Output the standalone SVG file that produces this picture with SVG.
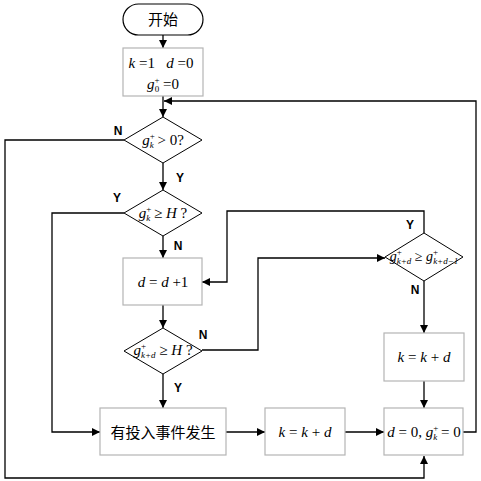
<svg xmlns="http://www.w3.org/2000/svg" width="481" height="481" viewBox="0 0 481 481">
<defs>
<marker id="ah" viewBox="0 0 10 10" refX="10" refY="5" markerWidth="9" markerHeight="8" markerUnits="userSpaceOnUse" orient="auto">
<path d="M0,0 L10,5 L0,10 z" fill="#000"/>
</marker>
<style>
.box{fill:#fff;stroke:#b4b4b4;stroke-width:1.2}
.dia{fill:#fff;stroke:#000;stroke-width:1}
.term{fill:#fff;stroke:#000;stroke-width:1.2}
.ln{fill:none;stroke:#000;stroke-width:1.3;marker-end:url(#ah)}
.m{font-family:"Liberation Serif","Times New Roman",serif;font-size:15px;fill:#000}
.i{font-style:italic}
.s{font-size:9px}
.lab{font-family:"Liberation Sans",Arial,sans-serif;font-weight:bold;font-size:12px;fill:#000;text-anchor:middle}
.cn{font-family:"Liberation Sans","Noto Sans CJK SC",sans-serif;font-size:15px;fill:#000;text-anchor:middle}
</style>
</defs>
<rect width="481" height="481" fill="#fff"/>

<g id="connectors">
<path class="ln" d="M163,35 V48"/>
<path class="ln" d="M163,96 V117"/>
<path class="ln" d="M463,432 H476 V101 H164"/>
<path class="ln" d="M124,140 H5 V478 H424 V456"/>
<path class="ln" d="M163,163 V190"/>
<path class="ln" d="M124,213 H52 V432 H100"/>
<path class="ln" d="M163,236 V258"/>
<path class="ln" d="M163,305 V328"/>
<path class="ln" d="M163,374 V408"/>
<path class="ln" d="M202,350 H258 V258 H385"/>
<path class="ln" d="M424,233 V211 H227 V282 H202"/>
<path class="ln" d="M424,281 V333"/>
<path class="ln" d="M424,381 V408"/>
<path class="ln" d="M226,432 H265"/>
<path class="ln" d="M345,432 H384"/>
<text class="lab" x="118" y="135">N</text>
<text class="lab" x="180" y="182">Y</text>
<text class="lab" x="117" y="202">Y</text>
<text class="lab" x="178" y="250">N</text>
<text class="lab" x="410" y="229">Y</text>
<text class="lab" x="415" y="294">N</text>
<text class="lab" x="203" y="339">N</text>
<text class="lab" x="178" y="392">Y</text>
</g>

<g id="start">
<rect class="term" x="123" y="4" width="80" height="31" rx="15.5"/>
<text class="cn" x="163" y="25">开始</text>
</g>

<g id="init">
<rect class="box" x="123" y="48" width="80" height="48"/>
<text class="m" x="161" y="68" text-anchor="middle"><tspan class="i">k</tspan> =1 &#160; <tspan class="i">d</tspan> =0</text>
<text class="m" x="163" y="89" text-anchor="middle"><tspan class="i">g</tspan><tspan class="s" dy="-6">+</tspan><tspan class="s" dx="-5" dy="9">0</tspan><tspan dy="-3"> =0</tspan></text>
</g>

<g id="dec1">
<polygon class="dia" points="163,117 202,140 163,163 124,140"/>
<text class="m" x="163" y="145" text-anchor="middle"><tspan class="i">g</tspan><tspan class="s" dy="-6">+</tspan><tspan class="s i" dx="-5" dy="9">k</tspan><tspan dy="-3"> &gt; 0?</tspan></text>
</g>

<g id="dec2">
<polygon class="dia" points="163,190 202,213 163,236 124,213"/>
<text class="m" x="163" y="218" text-anchor="middle"><tspan class="i">g</tspan><tspan class="s" dy="-6">+</tspan><tspan class="s i" dx="-5" dy="9">k</tspan><tspan dy="-3"> ≥ </tspan><tspan class="i">H</tspan> ?</text>
</g>

<g id="inc">
<rect class="box" x="123" y="258" width="79" height="47"/>
<text class="m" x="163" y="287" text-anchor="middle"><tspan class="i">d</tspan> = <tspan class="i">d</tspan> +1</text>
</g>

<g id="dec4">
<polygon class="dia" points="163,328 202,351 163,374 124,351"/>
<text class="m" x="163" y="355" text-anchor="middle"><tspan class="i">g</tspan><tspan class="s" dy="-6">+</tspan><tspan class="s i" dx="-5" dy="9">k+d</tspan><tspan dy="-3"> ≥ </tspan><tspan class="i">H</tspan> ?</text>
</g>

<g id="dec3">
<polygon class="dia" points="424,233 463,257 424,281 385,257"/>
<text class="m" x="424" y="261" text-anchor="middle" style="font-size:14px"><tspan class="i">g</tspan><tspan class="s" dy="-6">+</tspan><tspan class="s i" dx="-5" dy="9">k+d</tspan><tspan dy="-3"> ≥ </tspan><tspan class="i">g</tspan><tspan class="s" dy="-6">+</tspan><tspan class="s i" dx="-5" dy="9">k+d−1</tspan></text>
</g>

<g id="kupd2">
<rect class="box" x="384" y="333" width="80" height="48"/>
<text class="m" x="424" y="362" text-anchor="middle"><tspan class="i">k</tspan> = <tspan class="i">k</tspan> + <tspan class="i">d</tspan></text>
</g>

<g id="event">
<rect class="box" x="100" y="408" width="126" height="47"/>
<text class="cn" x="163" y="438">有投入事件发生</text>
</g>

<g id="kupd1">
<rect class="box" x="265" y="408" width="80" height="47"/>
<text class="m" x="305" y="437" text-anchor="middle"><tspan class="i">k</tspan> = <tspan class="i">k</tspan> + <tspan class="i">d</tspan></text>
</g>

<g id="reset">
<rect class="box" x="384" y="408" width="79" height="47"/>
<text class="m" x="424" y="437" text-anchor="middle"><tspan class="i">d</tspan> = 0, <tspan class="i">g</tspan><tspan class="s" dy="-6">+</tspan><tspan class="s i" dx="-5" dy="9">k</tspan><tspan dy="-3"> = 0</tspan></text>
</g>
</svg>
